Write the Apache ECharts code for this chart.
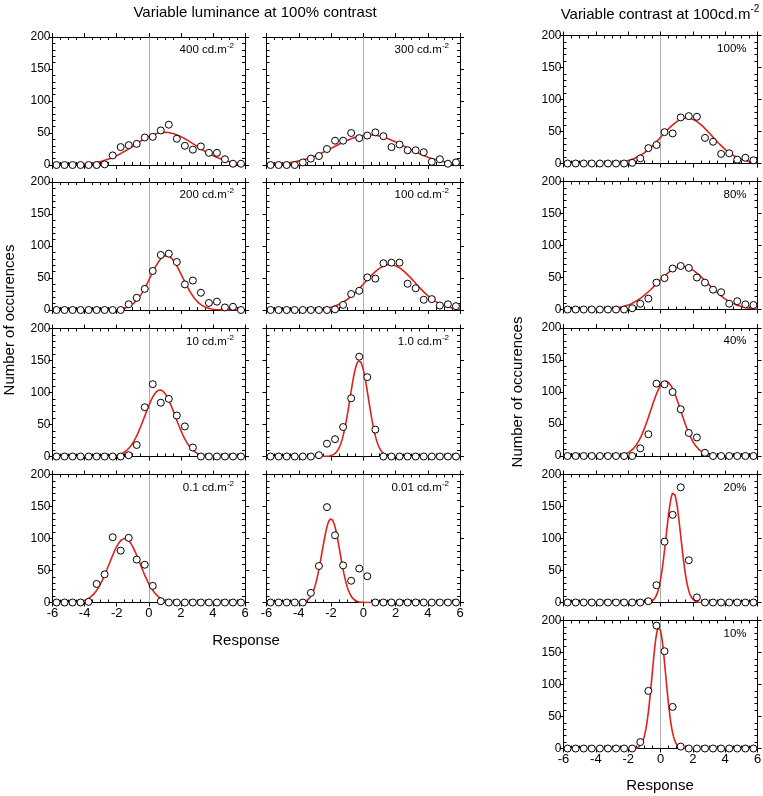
<!DOCTYPE html>
<html><head><meta charset="utf-8">
<script src="https://cdn.jsdelivr.net/npm/echarts@6/dist/echarts.min.js"></script>
<style>html,body{margin:0;padding:0;background:#fff}#c{width:763px;height:796px}</style>
</head><body><div id="c"></div>
<script>
// ---------- DATA ----------
const responseX = [-5.75,-5.25,-4.75,-4.25,-3.75,-3.25,-2.75,-2.25,-1.75,-1.25,-0.75,-0.25,0.25,0.75,1.25,1.75,2.25,2.75,3.25,3.75,4.25,4.75,5.25,5.75];
const lum400 = [0,0,0,0,0,0,1,15,28,31,33,43,44,54,63,41,30,24,29,19,19,9,2,2];
const lum300 = [0,0,0,0,4,10,14,25,38,38,50,42,46,51,45,28,32,23,23,20,5,9,2,4];
const lum200 = [0,0,0,0,0,0,0,0,0,9,19,33,61,86,88,75,40,46,27,11,13,4,5,0];
const lum100 = [0,0,0,0,0,0,0,0,1,8,25,30,51,49,73,74,74,41,34,16,17,7,9,6];
const lum10  = [0,0,0,0,0,0,0,0,0,2,18,77,113,84,90,64,47,14,0,0,0,0,0,0];
const lum1   = [0,0,0,0,0,0,2,20,27,46,91,156,124,42,0,0,0,0,0,0,0,0,0,0];
const lum01  = [0,0,0,0,1,29,44,102,81,101,67,59,26,2,0,0,0,0,0,0,0,0,0,0];
const lum001 = [0,0,0,0,0,15,57,149,105,58,34,53,41,0,0,0,0,0,0,0,0,0,0,0];
const con100 = [0,0,0,0,0,0,0,0,1,8,24,29,49,47,72,74,73,40,34,15,16,6,9,5];
const con80  = [0,0,0,0,0,0,0,0,2,9,17,42,49,64,68,65,50,42,31,27,9,13,8,7];
const con40  = [0,0,0,0,0,0,0,0,0,12,34,113,112,100,73,36,29,5,0,0,0,0,0,0];
const con20  = [0,0,0,0,0,0,0,0,0,0,2,27,95,137,180,66,8,0,0,0,0,0,0,0];
const con10  = [0,0,0,0,0,0,0,0,0,10,90,192,152,65,3,0,0,0,0,0,0,0,0,0];

const panelNames = ['400 cd.m','300 cd.m','200 cd.m','100 cd.m','10 cd.m','1.0 cd.m','0.1 cd.m','0.01 cd.m','100%','80%','40%','20%','10%'];
const panelSups  = ['-2','-2','-2','-2','-2','-2','-2','-2','','','','',''];
// Gaussian fit: peak height, centre, standard deviation
const fitPeak = [51, 47, 85, 71, 104, 150, 100, 131, 71, 67, 117, 172, 190];
const fitMean = [1.0, 0.4, 1.1, 1.65, 0.7, -0.25, -1.5, -2.0, 1.63, 1.35, 0.32, 0.8, -0.1];
const fitSD   = [1.9, 2.2, 1.0, 1.55, 0.95, 0.57, 0.96, 0.55, 1.55, 1.58, 0.93, 0.45, 0.42];

const xTickValues = [-6,-4,-2,0,2,4,6];
const yTickValues = [0,50,100,150,200];
const titleLeft = 'Variable luminance at 100% contrast';
const titleRight = 'Variable contrast at 100cd.m';
const yTitle = 'Number of occurences';
const xTitle = 'Response';

const panelSeries = [lum400, lum300, lum200, lum100, lum10, lum1, lum01, lum001, con100, con80, con40, con20, con10];

// ---------- LAYOUT ----------
const FONT = 'Liberation Sans, Arial, Helvetica, sans-serif';
const layout = [
  [52.5,37,192.5],[266.5,37,193.5],[52.5,182,192.5],[266.5,182,193.5],
  [52.5,328.5,192.5],[266.5,328.5,193.5],[52.5,474.5,192.5],[266.5,474.5,193.5],
  [563.5,35.5,194],[563.5,181.5,194],[563.5,328,194],[563.5,474.5,194],[563.5,620.5,194]
];
const PH = 128;
const showXLab = [6,7,12];
const showYLab = [0,2,4,6,8,9,10,11,12];

const grids = [], xAxes = [], yAxes = [], series = [], titles = [];
const xMin = xTickValues[0], xMax = xTickValues[xTickValues.length-1];
const xInt = xTickValues[1]-xTickValues[0];
const yMin = yTickValues[0], yMax = yTickValues[yTickValues.length-1];
const yInt = yTickValues[1]-yTickValues[0];

function axisBase(gi, pos, isX, major, labels){
  return {
    gridIndex: gi, type: 'value', position: pos,
    min: isX ? xMin : yMin, max: isX ? xMax : yMax, interval: isX ? xInt : yInt,
    axisLine: {show: major, onZero: false, lineStyle: {color: '#000', width: 1}},
    axisTick: {show: major, inside: !major, length: 4, lineStyle: {color: '#000', width: 1}},
    minorTick: {show: !major, splitNumber: isX ? 4 : 5, length: 3, lineStyle: {color: '#000', width: 1}},
    axisLabel: {show: labels, color: '#000', fontFamily: FONT, fontSize: isX ? 13 : 12, margin: isX ? 4 : 2},
    splitLine: {show: false}, minorSplitLine: {show: false}
  };
}

panelSeries.forEach((vals, i) => {
  const [l, t, w] = layout[i];
  grids.push({left: l, top: t, width: w, height: PH, outerBoundsMode: 'none', containLabel: false});
  const xi = xAxes.length, yi = yAxes.length;
  xAxes.push(axisBase(i, 'bottom', true, true, showXLab.includes(i)));
  xAxes.push(axisBase(i, 'bottom', true, false, false));
  xAxes.push(axisBase(i, 'top', true, true, false));
  xAxes.push(axisBase(i, 'top', true, false, false));
  yAxes.push(axisBase(i, 'left', false, true, showYLab.includes(i)));
  yAxes.push(axisBase(i, 'left', false, false, false));
  yAxes.push(axisBase(i, 'right', false, true, false));
  yAxes.push(axisBase(i, 'right', false, false, false));

  const curve = [];
  for (let k = 0; k <= 240; k++) {
    const x = xMin + k * 0.05;
    const d = (x - fitMean[i]) / fitSD[i];
    curve.push([x, fitPeak[i] * Math.exp(-0.5 * d * d)]);
  }
  series.push({
    type: 'line', xAxisIndex: xi, yAxisIndex: yi, data: curve, showSymbol: false, symbol: 'none',
    lineStyle: {color: '#e0201b', width: 1.6}, z: 3, silent: true, animation: false,
    markLine: {silent: true, symbol: 'none', label: {show: false}, animation: false,
      lineStyle: {color: '#9a9a9a', width: 0.8, type: 'solid'}, data: [{xAxis: 0}], z: 1}
  });
  series.push({
    type: 'scatter', xAxisIndex: xi, yAxisIndex: yi,
    data: responseX.map((x, k) => [x, vals[k]]),
    symbol: 'circle', symbolSize: 7, clip: false,
    itemStyle: {color: '#fff', borderColor: '#000', borderWidth: 1, opacity: 1},
    z: 4, silent: true, animation: false
  });
  titles.push({
    text: panelSups[i] ? '{a|' + panelNames[i] + '}{s|' + panelSups[i] + '}' : '{a|' + panelNames[i] + '}',
    right: 763 - (l + w) + 11, top: t + 5, padding: 0,
    textStyle: {fontWeight: 'normal', rich: {
      a: {fontFamily: FONT, fontSize: 11.5, fontWeight: 'normal', color: '#000', lineHeight: 14, verticalAlign: 'bottom'},
      s: {fontFamily: FONT, fontSize: 8, fontWeight: 'normal', color: '#000', lineHeight: 8, verticalAlign: 'top'}
    }}
  });
});

const graphics = [
  {type: 'text', x: 255, y: 13, style: {text: titleLeft, font: '15px ' + FONT, fill: '#000', align: 'center', verticalAlign: 'middle'}},
  {type: 'text', x: 660, y: 13, style: {text: '{a|' + titleRight + '}{s|-2}', align: 'center', verticalAlign: 'middle',
     rich: {a: {font: '15px ' + FONT, fill: '#000', lineHeight: 18, verticalAlign: 'bottom'},
            s: {font: '10px ' + FONT, fill: '#000', lineHeight: 10, verticalAlign: 'top'}}}},
  {type: 'text', x: 10, y: 320, rotation: Math.PI/2, style: {text: yTitle, font: '15px ' + FONT, fill: '#000', align: 'center', verticalAlign: 'middle'}},
  {type: 'text', x: 518, y: 392, rotation: Math.PI/2, style: {text: yTitle, font: '15px ' + FONT, fill: '#000', align: 'center', verticalAlign: 'middle'}},
  {type: 'text', x: 246, y: 641, style: {text: xTitle, font: '15px ' + FONT, fill: '#000', align: 'center', verticalAlign: 'middle'}},
  {type: 'text', x: 660, y: 786, style: {text: xTitle, font: '15px ' + FONT, fill: '#000', align: 'center', verticalAlign: 'middle'}}
];

const chart = echarts.init(document.getElementById('c'), null, {renderer: 'canvas'});
chart.setOption({
  backgroundColor: '#fff', animation: false,
  title: titles, grid: grids, xAxis: xAxes, yAxis: yAxes, series: series, graphic: graphics
});
</script></body></html>
